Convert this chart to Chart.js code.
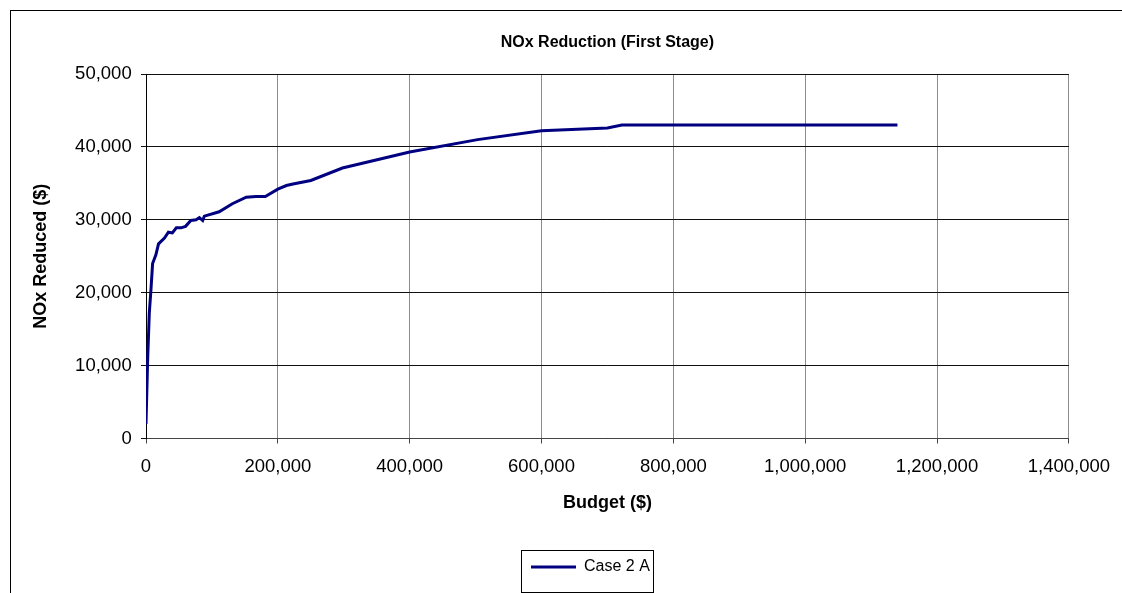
<!DOCTYPE html>
<html>
<head>
<meta charset="utf-8">
<script src="https://cdn.jsdelivr.net/npm/chart.js@4.4.1/dist/chart.umd.min.js"></script>
<style>
  html, body { margin: 0; padding: 0; background: #fff; overflow: hidden; }
  #frame { position: absolute; left: 10px; top: 10px; width: 2000px; height: 2000px;
           border-left: 1px solid #000; border-top: 1px solid #000; }
  #c { position: absolute; left: 0; top: 0; }
</style>
</head>
<body>
<div id="frame"></div>
<canvas id="c" width="1122" height="593"></canvas>
<script>
// Budget spent ($) and the NOx reduction it buys
const budget = [
  0, 2500, 5000, 7500, 10000, 15000, 19000, 28000, 34000, 40000,
  46000, 53000, 60000, 68000, 76000, 81000, 86000, 88500, 111000, 131000,
  152000, 167000, 181000, 200000, 213000, 223000, 250000, 298000, 400000, 503000,
  600000, 700000, 722000, 1140000
];
const noxReduced = [
  2000, 10800, 17200, 20400, 24000, 25200, 26700, 27500, 28300, 28200,
  28900, 28900, 29100, 29900, 30000, 30300, 29900, 30500, 31100, 32200,
  33100, 33200, 33200, 34200, 34700, 34900, 35400, 37100, 39300, 41000,
  42200, 42600, 43000, 43000
];

const xTickValues = [0, 200000, 400000, 600000, 800000, 1000000, 1200000, 1400000];
const yTickValues = [0, 10000, 20000, 30000, 40000, 50000];

const seriesLabel = 'Case 2 A';
const chartTitle = 'NOx Reduction (First Stage)';
const xTitle = 'Budget ($)';
const yTitle = 'NOx Reduced ($)';

const FONT = "'Liberation Sans', Arial, sans-serif";
const LEGEND_ITEM_X = 531;

// Places the legend entry and draws the box around it
const legendFrame = {
  id: 'legendFrame',
  afterLayout(chart) {
    const lg = chart.legend;
    const pad = lg.options.labels.padding;
    const startX = (lg.left + pad + lg.right - lg.lineWidths[0]) / 2;
    const dx = LEGEND_ITEM_X - startX;
    lg.left += dx;
    lg.right += dx;
  },
  afterDraw(chart) {
    const lg = chart.legend;
    const pad = lg.options.labels.padding;
    const lineW = lg.lineWidths[0];
    const itemW = lineW - pad;
    const startX = (lg.left + pad + lg.right - lineW) / 2;
    const ctx = chart.ctx;
    ctx.save();
    ctx.strokeStyle = '#000';
    ctx.lineWidth = 1;
    const x0 = Math.round(startX - 10) + 0.5;
    const x1 = Math.round(startX + itemW + 3) + 0.5;
    ctx.strokeRect(x0, 550.5, x1 - x0, 42);
    ctx.restore();
  }
};

const fmt = v => Number(v).toLocaleString('en-US');

new Chart(document.getElementById('c'), {
  type: 'line',
  data: {
    datasets: [{
      label: seriesLabel,
      data: budget.map((b, i) => ({ x: b, y: noxReduced[i] })),
      borderColor: '#000080',
      backgroundColor: '#000080',
      borderWidth: 3,
      pointRadius: 0,
      pointHoverRadius: 0,
      tension: 0,
      fill: false,
      pointStyle: 'line'
    }]
  },
  options: {
    responsive: false,
    animation: false,
    devicePixelRatio: 1,
    layout: { padding: { left: 0, right: 51.3, top: 0, bottom: 8 } },
    plugins: {
      tooltip: { enabled: false },
      title: {
        display: true,
        text: chartTitle,
        fullSize: false,
        color: '#000',
        font: { family: FONT, size: 16, weight: 'bold' },
        padding: { top: 33, bottom: 21.8 }
      },
      legend: {
        display: true,
        position: 'bottom',
        labels: {
          color: '#000',
          font: { family: FONT, size: 16 },
          usePointStyle: true,
          pointStyleWidth: 45,
          padding: 10
        }
      }
    },
    scales: {
      x: {
        type: 'linear',
        min: 0,
        max: 1400000,
        afterBuildTicks: s => { s.ticks = xTickValues.map(v => ({ value: v })); },
        afterFit: s => { s.height = 110.5; },
        ticks: {
          autoSkip: false,
          maxRotation: 0,
          color: '#000',
          padding: 12,
          font: { family: FONT, size: 18.5 },
          callback: fmt
        },
        grid: {
          color: '#8c8c8c',
          lineWidth: 1,
          drawTicks: true,
          tickLength: 5,
          tickColor: '#444'
        },
        border: { display: true, color: '#444', width: 1 },
        title: {
          display: true,
          text: xTitle,
          color: '#000',
          font: { family: FONT, size: 18, weight: 'bold' },
          padding: { top: 0, bottom: 35.2 }
        }
      },
      y: {
        type: 'linear',
        min: 0,
        max: 50000,
        afterBuildTicks: s => { s.ticks = yTickValues.map(v => ({ value: v })); },
        afterFit: s => { s.width = 146; },
        ticks: {
          color: '#000',
          padding: 9.3,
          font: { family: FONT, size: 18.5 },
          callback: fmt
        },
        grid: {
          color: '#111',
          lineWidth: 1,
          drawTicks: true,
          tickLength: 5,
          tickColor: '#111'
        },
        border: { display: true, color: '#000', width: 1 },
        title: {
          display: true,
          text: yTitle,
          color: '#000',
          font: { family: FONT, size: 18, weight: 'bold' },
          padding: { top: 30.2, bottom: 0 }
        }
      }
    }
  },
  plugins: [legendFrame]
});
</script>
</body>
</html>
